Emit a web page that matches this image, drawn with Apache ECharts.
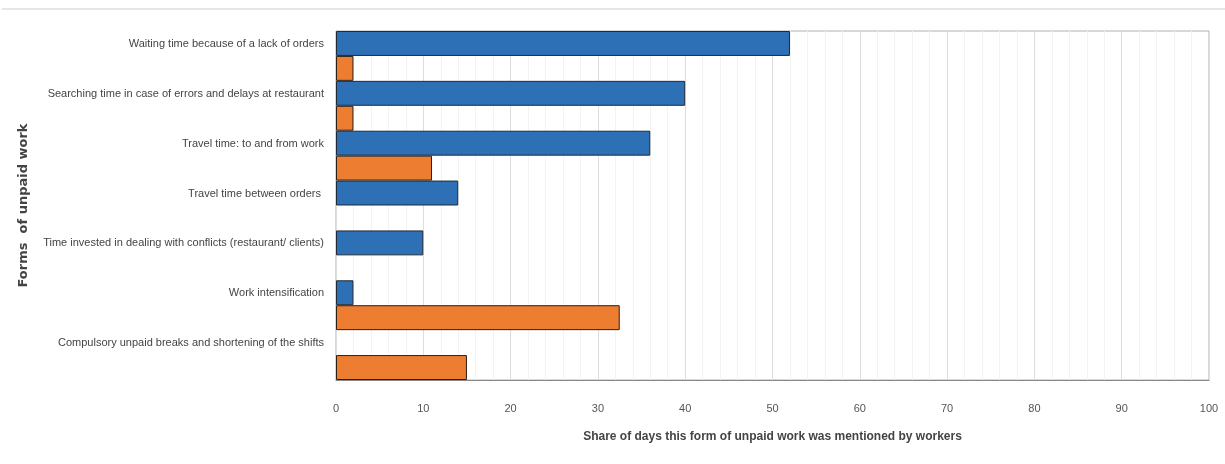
<!DOCTYPE html>
<html>
<head>
<meta charset="utf-8">
<script src="https://cdn.jsdelivr.net/npm/echarts@6/dist/echarts.min.js"></script>
<style>html,body{margin:0;padding:0;background:#fff;}#c{width:1225px;height:464px;}</style>
</head>
<body>
<div id="c"></div>
<script>
var categories = [
  "Waiting time because of a lack of orders",
  "Searching time in case of errors and delays at restaurant",
  "Travel time: to and from work",
  "Travel time between orders ",
  "Time invested in dealing with conflicts (restaurant/ clients)",
  "Work intensification",
  "Compulsory unpaid breaks and shortening of the shifts"
];
var blueValues = [52, 40, 36, 14, 10, 2, null];
var orangeValues = [2, 2, 11, null, null, 32.5, 15];
var xTicks = [0, 10, 20, 30, 40, 50, 60, 70, 80, 90, 100];

var chart = echarts.init(document.getElementById('c'));
chart.setOption({
  animation: false,
  backgroundColor: '#fff',
  textStyle: { fontFamily: 'Liberation Sans' },
  graphic: [{
    type: 'rect', left: 2, top: 8, shape: { width: 1223, height: 2 },
    style: { fill: '#e6e6e6' }, silent: true
  }],
  grid: {
    left: 336, right: 16, top: 31, bottom: 84,
    show: true, borderColor: '#b0b0b0', borderWidth: 1
  },
  xAxis: {
    type: 'value', min: xTicks[0], max: xTicks[xTicks.length - 1], interval: 10,
    name: 'Share of days this form of unpaid work was mentioned by workers',
    nameLocation: 'middle', nameGap: 51,
    nameTextStyle: { fontSize: 12, fontWeight: 'bold', color: '#444' },
    axisLine: { show: true, lineStyle: { color: '#888', width: 1 } },
    axisTick: { show: false },
    axisLabel: { fontSize: 11, color: '#555', margin: 23 },
    splitLine: { show: true, lineStyle: { color: '#dedede', width: 1 } },
    minorTick: { show: false, splitNumber: 5 },
    minorSplitLine: { show: true, lineStyle: { color: '#f3f3f3', width: 1 } }
  },
  yAxis: {
    type: 'category', data: categories, inverse: true,
    name: 'Forms  of unpaid work', nameLocation: 'middle', nameGap: 306,
    nameTextStyle: { fontSize: 13, fontWeight: 'bold', color: '#444', fontFamily: 'DejaVu Sans' },
    axisLine: { show: false },
    axisTick: { show: false },
    axisLabel: { fontSize: 11, color: '#444', margin: 12, verticalAlign: 'bottom', lineHeight: 24 },
    splitLine: { show: false }
  },
  series: [
    {
      type: 'bar', data: blueValues, barGap: '0%', barCategoryGap: '0%',
      itemStyle: { color: '#2E70B5', borderColor: '#1f2a36', borderWidth: 1 }
    },
    {
      type: 'bar', data: orangeValues,
      itemStyle: { color: '#ED7D31', borderColor: '#2b1f14', borderWidth: 1 }
    }
  ]
});
</script>
</body>
</html>
